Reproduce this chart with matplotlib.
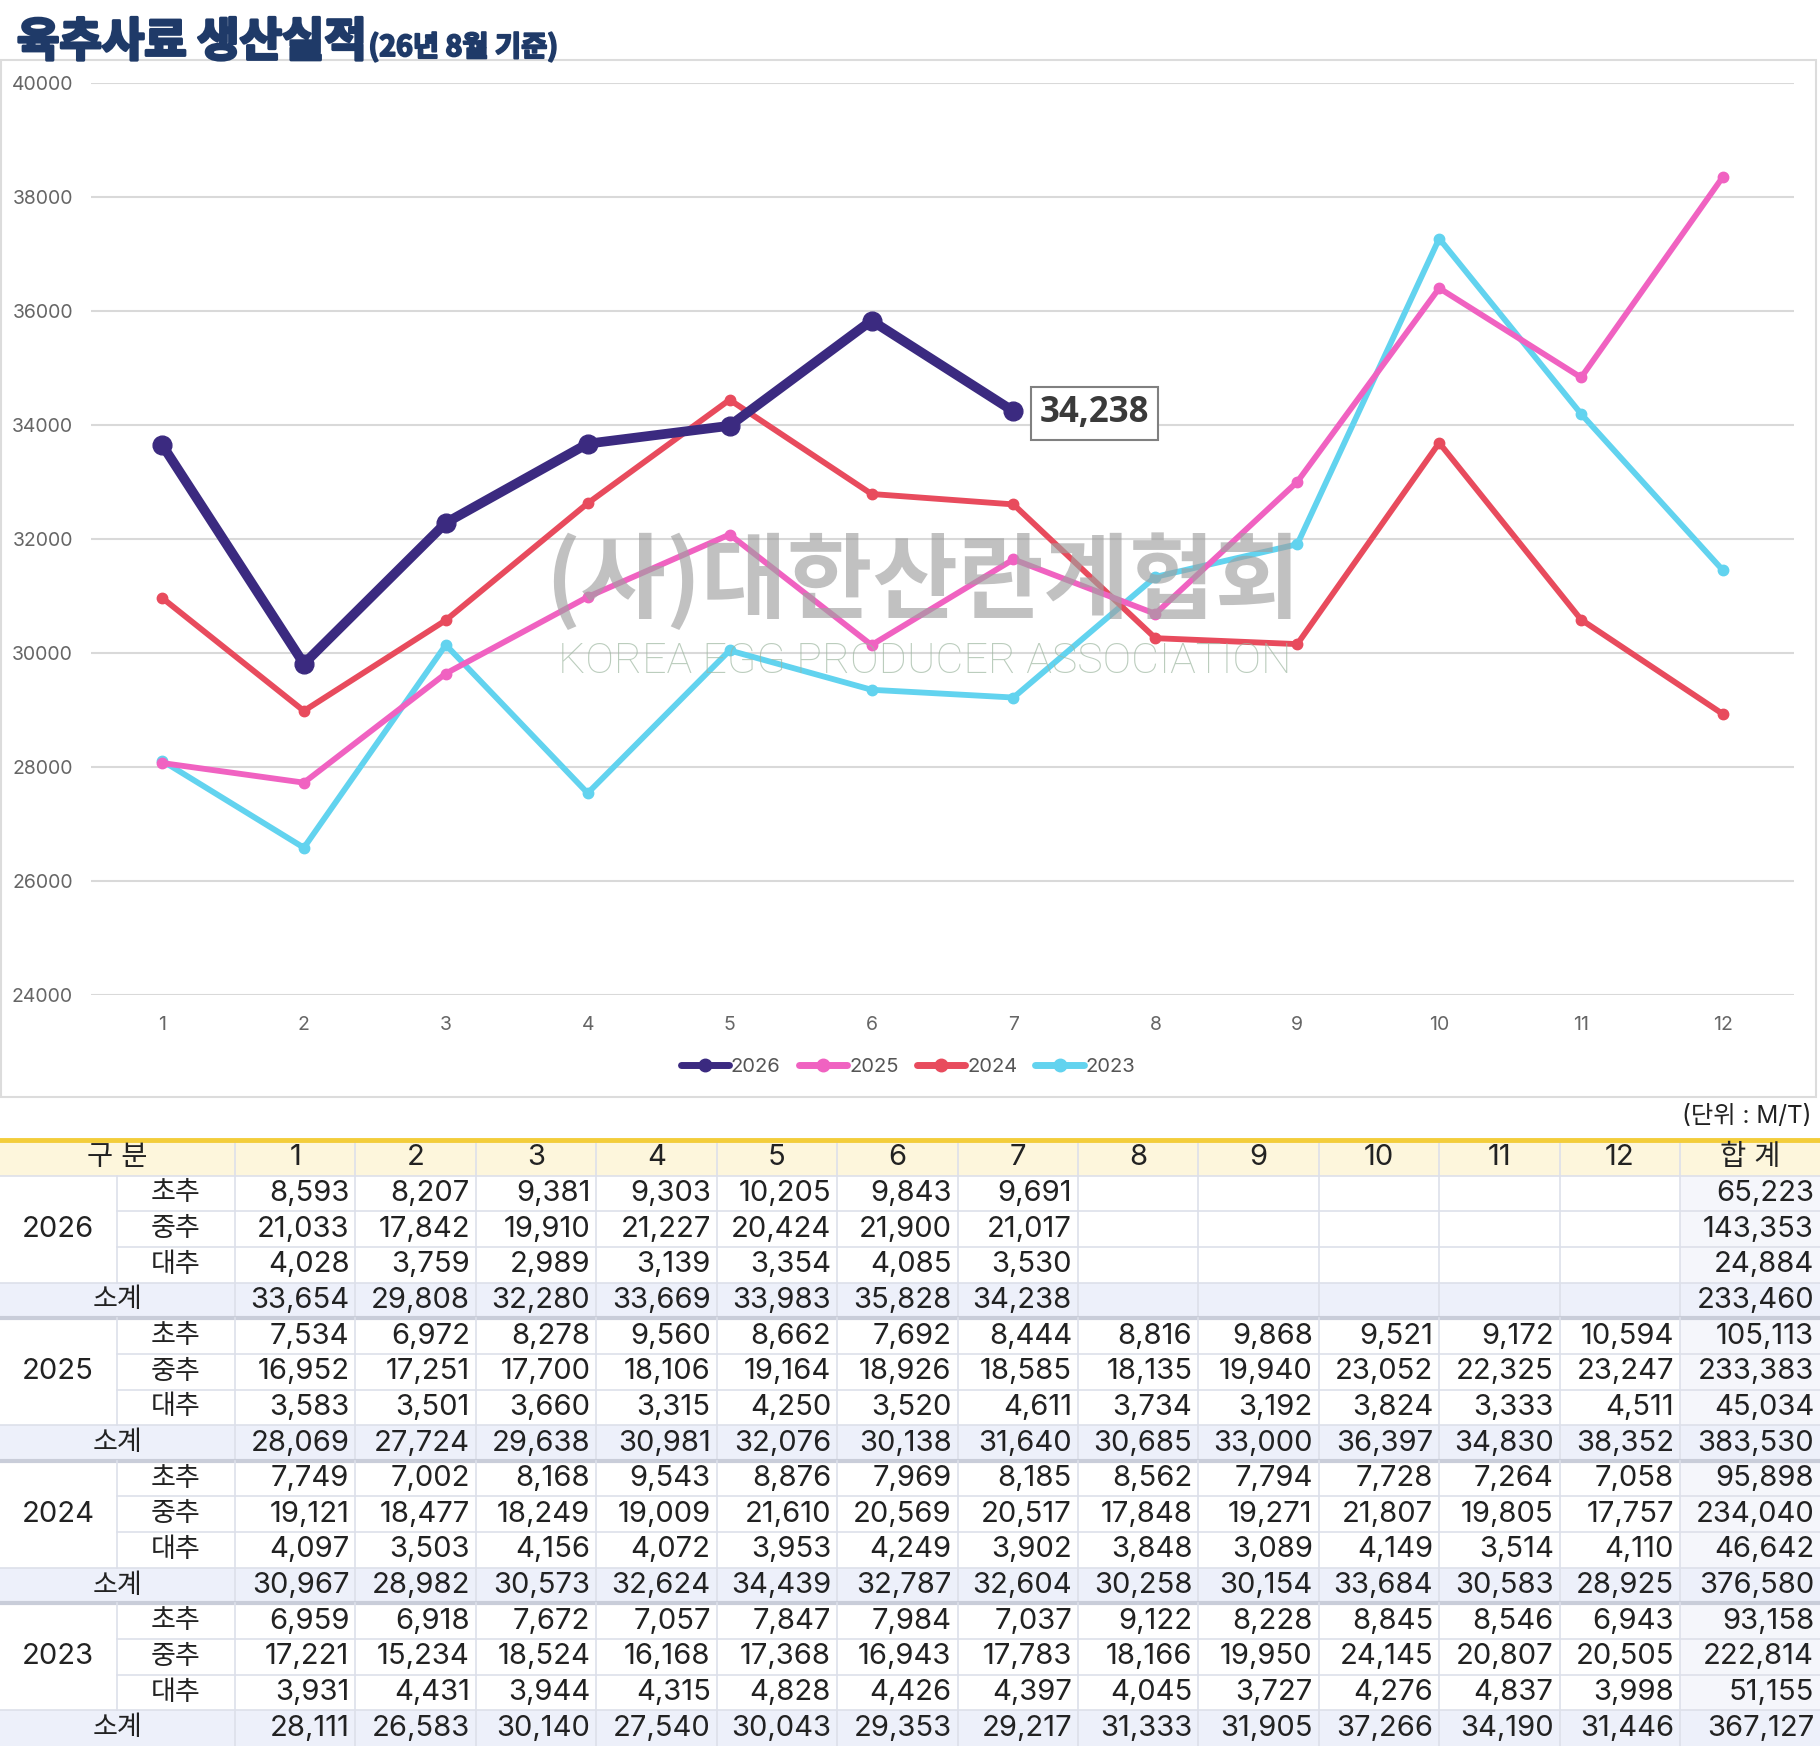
import matplotlib
matplotlib.use("Agg")
import matplotlib.pyplot as plt
import matplotlib.patheffects as pe
from matplotlib.patches import Rectangle
from matplotlib.lines import Line2D

plt.rcParams['font.family'] = ['Inter', 'Noto Sans CJK KR', 'DejaVu Sans']

# ---- data (M/T) ----
months = list(range(1, 13))
years = ['2026', '2025', '2024', '2023']
grades = ['초추', '중추', '대추']

early_2026 = [8593, 8207, 9381, 9303, 10205, 9843, 9691]
mid_2026 = [21033, 17842, 19910, 21227, 20424, 21900, 21017]
late_2026 = [4028, 3759, 2989, 3139, 3354, 4085, 3530]
sub_2026 = [33654, 29808, 32280, 33669, 33983, 35828, 34238]
total_2026 = [65223, 143353, 24884, 233460]

early_2025 = [7534, 6972, 8278, 9560, 8662, 7692, 8444, 8816, 9868, 9521, 9172, 10594]
mid_2025 = [16952, 17251, 17700, 18106, 19164, 18926, 18585, 18135, 19940, 23052, 22325, 23247]
late_2025 = [3583, 3501, 3660, 3315, 4250, 3520, 4611, 3734, 3192, 3824, 3333, 4511]
sub_2025 = [28069, 27724, 29638, 30981, 32076, 30138, 31640, 30685, 33000, 36397, 34830, 38352]
total_2025 = [105113, 233383, 45034, 383530]

early_2024 = [7749, 7002, 8168, 9543, 8876, 7969, 8185, 8562, 7794, 7728, 7264, 7058]
mid_2024 = [19121, 18477, 18249, 19009, 21610, 20569, 20517, 17848, 19271, 21807, 19805, 17757]
late_2024 = [4097, 3503, 4156, 4072, 3953, 4249, 3902, 3848, 3089, 4149, 3514, 4110]
sub_2024 = [30967, 28982, 30573, 32624, 34439, 32787, 32604, 30258, 30154, 33684, 30583, 28925]
total_2024 = [95898, 234040, 46642, 376580]

early_2023 = [6959, 6918, 7672, 7057, 7847, 7984, 7037, 9122, 8228, 8845, 8546, 6943]
mid_2023 = [17221, 15234, 18524, 16168, 17368, 16943, 17783, 18166, 19950, 24145, 20807, 20505]
late_2023 = [3931, 4431, 3944, 4315, 4828, 4426, 4397, 4045, 3727, 4276, 4837, 3998]
sub_2023 = [28111, 26583, 30140, 27540, 30043, 29353, 29217, 31333, 31905, 37266, 34190, 31446]
total_2023 = [93158, 222814, 51155, 367127]

table = {
    '2026': ([early_2026, mid_2026, late_2026, sub_2026], total_2026),
    '2025': ([early_2025, mid_2025, late_2025, sub_2025], total_2025),
    '2024': ([early_2024, mid_2024, late_2024, sub_2024], total_2024),
    '2023': ([early_2023, mid_2023, late_2023, sub_2023], total_2023),
}
colors = {'2026': '#3b2a80', '2025': '#f062c1', '2024': '#e84b5d', '2023': '#62d3ef'}

W, H = 1820, 1746
fig = plt.figure(figsize=(W / 100, H / 100), dpi=100)
fig.patch.set_facecolor('white')

# ---- line chart ----
ax = fig.add_axes([91 / W, 1 - 995 / H, (1794 - 91) / W, (995 - 82.7) / H])
ax.set_xlim(0.5, 12.5)
ax.set_ylim(24000, 40000)
ax.set_yticks(range(24000, 40001, 2000))
ax.set_xticks(months)
ax.grid(axis='y', color='#d9d9d9', lw=1.5)
ax.set_axisbelow(True)
for s in ax.spines.values():
    s.set_visible(False)
ax.tick_params(length=0, labelsize=14, labelcolor='#666666')
ax.tick_params(axis='y', pad=13)
ax.tick_params(axis='x', pad=15)

for yr in ['2023', '2024', '2025', '2026']:
    vals = table[yr][0][3]
    big = yr == '2026'
    ax.plot(months[:len(vals)], vals, color=colors[yr], lw=7 if big else 4.2,
            marker='o', ms=13.5 if big else 7.5, solid_capstyle='round',
            solid_joinstyle='round', zorder=5 if big else 3)

ax.annotate(f'{sub_2026[-1]:,}', xy=(len(sub_2026), sub_2026[-1]), xytext=(81, -2),
            textcoords='offset pixels', ha='center', va='center', fontsize=25,
            fontweight='bold', color='#3a3a3a', family=['Open Sans'],
            bbox=dict(boxstyle='square,pad=0.25', fc='white', ec='#808080', lw=1.5),
            zorder=6)

handles = [Line2D([], [], color=colors[y], lw=5, marker='o', ms=9,
                  solid_capstyle='round') for y in years]
fig.legend(handles, years, loc='center', bbox_to_anchor=(908 / W, 1 - 1067 / H),
           ncol=4, frameon=False, fontsize=14.5, handlelength=2.4, handletextpad=0.1,
           columnspacing=0.9, labelcolor='#555555')

# ---- overlay in pixel coordinates: frame, watermark, title, table ----
ov = fig.add_axes([0, 0, 1, 1])
ov.set_xlim(0, W)
ov.set_ylim(H, 0)
ov.axis('off')

ov.add_patch(Rectangle((1, 60), 1815, 1037, fc='none', ec='#dcdcdc', lw=1.5))

ov.text(923, 582, '(사)대한산란계협회', ha='center', va='center', fontsize=67,
        color='#a0a0a0', alpha=0.65, family=['Noto Sans CJK KR'], fontweight='bold',
        zorder=10)
ov.text(925, 661, 'KOREA EGG PRODUCER ASSOCIATION', ha='center', va='center',
        fontsize=31, color='#9fb8a2', alpha=0.7, family=['Roboto'],
        fontweight='light', zorder=10)

title_fx = [pe.withStroke(linewidth=2.2, foreground='#1f3a68')]
t = ov.text(17, 56, '육추사료 생산실적', ha='left', va='baseline', fontsize=33.2,
            fontweight='black', color='#1f3a68', family=['Noto Sans CJK KR'],
            path_effects=title_fx)
fig.canvas.draw()
bb = t.get_window_extent()
ov.text(bb.x1 + 2, 56, '(26년 8월 기준)', ha='left', va='baseline', fontsize=20.5,
        fontweight='black', color='#1f3a68', family=['Noto Sans CJK KR'],
        path_effects=[pe.withStroke(linewidth=1.4, foreground='#1f3a68')])

ov.text(1812, 1117, '(단위 : M/T)', ha='right', va='center', fontsize=17.5,
        color='#222222', family=['Inter', 'Noto Sans CJK KR'])

# table geometry
top0 = 1140
rh = (H - top0) / 17
left_w = 235
mw = (1680 - left_w) / 12
edges = [left_w + i * mw for i in range(13)] + [W]
grid_c = '#dde0ea'
txt_c = '#222222'
num_fs = 21
kor_fs = 19.5

# header
ov.add_patch(Rectangle((0, top0), W, rh, fc='#fdf6dc', ec='none'))
ov.text(117, top0 + rh / 2, '구 분', ha='center', va='center', fontsize=20.5, color=txt_c)
for i, m in enumerate(months):
    ov.text((edges[i] + edges[i + 1]) / 2, top0 + rh / 2, str(m), ha='center',
            va='center', fontsize=num_fs, color=txt_c)
ov.text(1750, top0 + rh / 2, '합 계', ha='center', va='center', fontsize=20.5, color=txt_c)
for x in edges[:-1]:
    ov.plot([x, x], [top0, top0 + rh], color=grid_c, lw=1.2)

for g, yr in enumerate(years):
    rows, totals = table[yr]
    base = top0 + rh * (1 + 4 * g)
    ov.add_patch(Rectangle((1680, base), W - 1680, 3 * rh, fc='#f5f6fb', ec='none'))
    ov.add_patch(Rectangle((0, base + 3 * rh), W, rh, fc='#edf0fa', ec='none'))
    ov.text(58, base + 1.5 * rh, yr, ha='center', va='center', fontsize=num_fs, color=txt_c)
    for r in range(4):
        yc = base + r * rh + rh / 2
        if r < 3:
            ov.text(176, yc, grades[r], ha='center', va='center', fontsize=kor_fs, color=txt_c)
        else:
            ov.text(117, yc, '소계', ha='center', va='center', fontsize=kor_fs, color=txt_c)
        for i, v in enumerate(rows[r]):
            ov.text(edges[i + 1] - 6, yc, f'{v:,}', ha='right', va='center',
                    fontsize=num_fs, color=txt_c)
        ov.text(W - 6, yc, f'{totals[r]:,}', ha='right', va='center',
                fontsize=num_fs, color=txt_c)
    # lines
    ov.plot([0, W], [base, base], color=grid_c if g == 0 else '#c9cdd9',
            lw=1.2 if g == 0 else 3)
    for r in (1, 2):
        ov.plot([117, W], [base + r * rh] * 2, color=grid_c, lw=1.2)
    ov.plot([0, W], [base + 3 * rh] * 2, color=grid_c, lw=1.2)
    for x in [117] + edges[:-1]:
        ov.plot([x, x], [base, base + 3 * rh], color=grid_c, lw=1.2)
    for x in edges[:-1]:
        ov.plot([x, x], [base + 3 * rh, base + 4 * rh], color=grid_c, lw=1.2)

ov.plot([0, W], [top0, top0], color='#f3cd3a', lw=3.5)

fig.savefig('out.png', dpi=100, facecolor='white')
